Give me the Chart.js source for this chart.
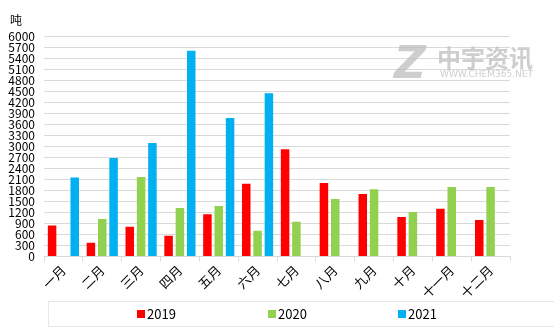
<!DOCTYPE html>
<html>
<head>
<meta charset="utf-8">
<script src="https://cdn.jsdelivr.net/npm/chart.js@4"></script>
<style>
    html, body { margin: 0; padding: 0; background: #fff; }
</style>
</head>
<body>
<canvas id="chart" width="554" height="332"></canvas>
<script>
var months = ["一月", "二月", "三月", "四月", "五月", "六月", "七月", "八月", "九月", "十月", "十一月", "十二月"];
var years = ["2019", "2020", "2021"];
var v2019 = [840, 370, 810, 560, 1150, 1980, 2920, 2000, 1700, 1070, 1300, 990];
var v2020 = [null, 1020, 2160, 1320, 1370, 700, 940, 1560, 1830, 1210, 1890, 1890];
var v2021 = [2150, 2680, 3090, 5600, 3770, 4440, null, null, null, null, null, null];
var unitText = "吨";

var barColors = ["#FF0000", "#92D050", "#00B0F0"];
var fontFamily = "'Noto Sans CJK SC', 'Noto Sans', sans-serif";

// watermark + unit label + boxed legend, drawn by hand like the excel picture
var extras = {
    id: 'extras',
    beforeDatasetsDraw: function (chart) {
        var ctx = chart.ctx;
        ctx.save();
        ctx.fillStyle = 'rgba(190,190,190,0.75)';
        ctx.font = "italic bold 44px 'DejaVu Sans', sans-serif";
        ctx.textBaseline = 'alphabetic';
        ctx.fillText('Z', 394, 78);
        ctx.font = "bold 24px 'Noto Sans CJK SC', sans-serif";
        ctx.fillText('中宇资讯', 437, 67);
        ctx.font = "9px 'DejaVu Sans', sans-serif";
        ctx.fillText('WWW.CHEM365.NET', 440, 77);
        ctx.restore();
    },
    afterDraw: function (chart) {
        var ctx = chart.ctx;
        ctx.save();
        ctx.fillStyle = '#000';
        ctx.font = "12px " + fontFamily;
        ctx.textBaseline = 'middle';
        ctx.fillText(unitText, 10, 20);

        // legend frame
        ctx.strokeStyle = '#E6E6E6';
        ctx.lineWidth = 1;
        ctx.strokeRect(48.5, 301.5, 510, 25);
        var xs = [137, 268, 398];
        ctx.font = "13px " + fontFamily;
        chart.data.datasets.forEach(function (ds, i) {
            ctx.fillStyle = ds.backgroundColor;
            ctx.fillRect(xs[i], 310, 8, 8);
            ctx.fillStyle = '#000';
            ctx.fillText(ds.label, xs[i] + 10, 314.5);
        });
        ctx.restore();
    }
};

new Chart("chart", {
    type: "bar",
    data: {
        labels: months,
        datasets: [
            { label: years[0], data: v2019, backgroundColor: barColors[0] },
            { label: years[1], data: v2020, backgroundColor: barColors[1] },
            { label: years[2], data: v2021, backgroundColor: barColors[2] }
        ]
    },
    options: {
        responsive: false,
        animation: false,
        events: [],
        layout: { padding: { left: 0, right: 44, top: 36, bottom: 30 } },
        datasets: { bar: { barPercentage: 0.75, categoryPercentage: 0.875 } },
        plugins: {
            legend: { display: false },
            tooltip: { enabled: false }
        },
        scales: {
            x: {
                grid: { display: true, drawOnChartArea: false, offset: true, color: '#D9D9D9', tickLength: 5 },
                border: { color: '#D9D9D9' },
                ticks: { color: '#000', font: { size: 13, family: fontFamily }, minRotation: 45, maxRotation: 45, autoSkip: false, padding: 1 }
            },
            y: {
                min: 0,
                max: 6000,
                afterFit: function (scale) { scale.width = 44; },
                grid: { color: '#D9D9D9', drawTicks: false },
                border: { display: false },
                ticks: {
                    stepSize: 300, autoSkip: false, color: '#000', padding: 9,
                    font: { size: 12, family: fontFamily },
                    callback: function (value) { return String(value); }
                }
            }
        }
    },
    plugins: [extras]
});
</script>
</body>
</html>
